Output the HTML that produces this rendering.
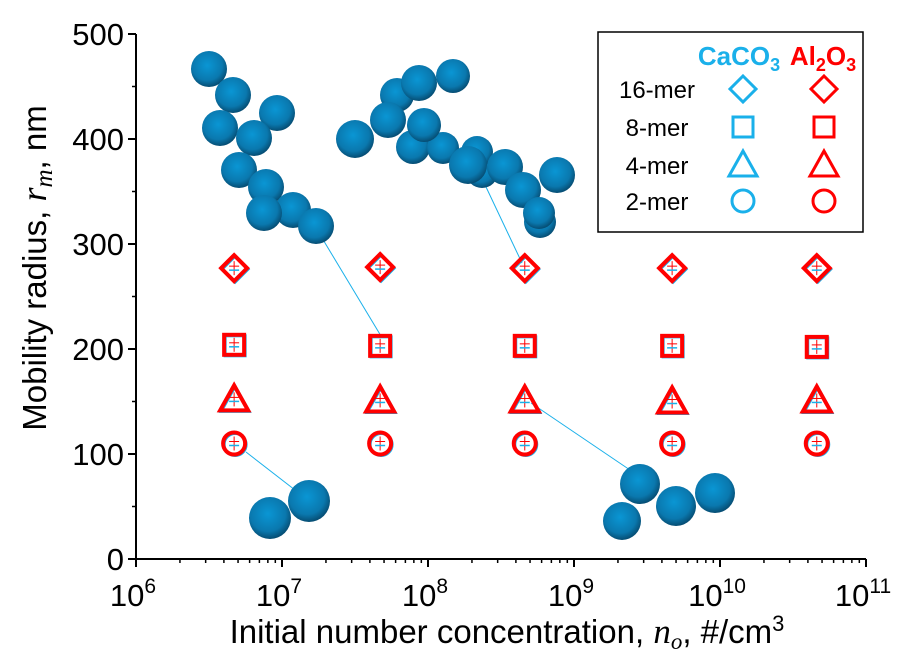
<!DOCTYPE html>
<html><head><meta charset="utf-8"><style>
html,body{margin:0;padding:0;background:#fff;}
svg{display:block;font-family:"Liberation Sans",Arial,sans-serif;}
</style></head><body>
<svg id="chart" width="924" height="670" viewBox="0 0 924 670">
<defs>
<radialGradient id="sph" cx="0.45" cy="0.4" r="0.6">
<stop offset="0" stop-color="#0a96d4"/><stop offset="0.7" stop-color="#0a78ae"/><stop offset="1" stop-color="#064d73"/>
</radialGradient>
</defs>
<g id="illus"></g>
<g id="axes"></g>
<g id="marks"></g>
<g>
<rect x="598" y="32" width="265" height="200" fill="#fff" stroke="#000" stroke-width="1.5"/>
<text x="739" y="65" text-anchor="middle" font-size="26" font-weight="bold" fill="#1ab0ea">CaCO<tspan font-size="18" dy="6">3</tspan></text>
<text x="823" y="65" text-anchor="middle" font-size="26" font-weight="bold" fill="#ff0000">Al<tspan font-size="18" dy="6">2</tspan><tspan dy="-6">O</tspan><tspan font-size="18" dy="6">3</tspan></text>
<g id="legrows"></g>
</g>
</svg>
<script>
const ns="http://www.w3.org/2000/svg";
const concentrations=[4.7e6,4.7e7,4.6e8,4.7e9,4.6e10];
const series16=[277,278,277,277,277];
const series8=[204,203,203,203,202];
const series4=[152,151,151,150,151];
const series2=[110,110,110,110,110];
const xTicks=[6,7,8,9,10,11];
const yTicks=[0,100,200,300,400,500];
const X0=136,X1=866,Y0=559,Y1=34;
function xs(v){return X0+(Math.log10(v)-6)/5*(X1-X0);}
function ys(v){return Y0-v/500*(Y0-Y1);}
function mk(tag,attrs,parent){const e=document.createElementNS(ns,tag);for(const k in attrs)e.setAttribute(k,attrs[k]);parent.appendChild(e);return e;}
const axes=document.getElementById('axes');
let l=mk('line',{x1:X0,y1:Y0,x2:X1,y2:Y0,stroke:'#000','stroke-width':2},axes);


l=mk('line',{x1:X0,y1:Y0,x2:X0,y2:Y1,stroke:'#000','stroke-width':2},axes);


xTicks.forEach(p=>{const x=xs(Math.pow(10,p));
 mk('line',{x1:x,y1:Y0,x2:x,y2:Y0+8,stroke:'#000','stroke-width':2},axes);
 const t=mk('text',{x:x-3,y:606,'text-anchor':'middle','font-size':31},axes);
 
 
 t.innerHTML='10<tspan font-size="21" dy="-13">'+p+'</tspan>';
 if(p<11)for(let m=2;m<=9;m++){const xm=xs(m*Math.pow(10,p));mk('line',{x1:xm,y1:Y0,x2:xm,y2:Y0+4,stroke:'#000','stroke-width':1.5},axes);}
});
yTicks.forEach(v=>{const y=ys(v);
 mk('line',{x1:X0-8,y1:y,x2:X0,y2:y,stroke:'#000','stroke-width':2},axes);
 if(v<500)mk('line',{x1:X0-4,y1:ys(v+50),x2:X0,y2:ys(v+50),stroke:'#000','stroke-width':1.5},axes);
 const t=mk('text',{x:124,y:y+11,'text-anchor':'end','font-size':31},axes);
 
 
 t.textContent=v;
});
let tt=mk('text',{x:507,y:643,'text-anchor':'middle','font-size':33},axes);


tt.innerHTML='Initial number concentration, <tspan font-family="Liberation Serif" font-style="italic" font-size="35">n<tspan font-size="23" dy="6">o</tspan></tspan><tspan dy="-6">, #/cm</tspan><tspan font-size="22" dy="-12">3</tspan>';
tt=mk('text',{x:0,y:0,'text-anchor':'middle','font-size':33,transform:'translate(46,268) rotate(-90)'},axes);


tt.innerHTML='Mobility radius, <tspan font-family="Liberation Serif" font-style="italic" font-size="36">r<tspan font-size="25" dy="6">m</tspan></tspan><tspan dy="-6">, nm</tspan>';
const ill=document.getElementById('illus');
[[316,228,381,336],[246,452,295,490],[478,170,522,263],[531,403,630,470]].forEach(s=>{mk('line',{x1:s[0],y1:s[1],x2:s[2],y2:s[3],stroke:'#1ab0ea','stroke-width':1},ill);});
const spheres=[[209,69,18],[233,95,18],[220,128,18],[277,113,18],[254,138,18],[239,170,18],[266,187,18],[293,210,18],[264,213,18],[316,226,18],
[355,139,19],[397,95,17],[419,83,18],[453,76,17],[388,120,18],[413,147,17],[443,148,16],[424,125,17],[482,172,16],[477,152,16],[468,165,19],[505,167,18],[523,190,18],[540,222,16],[539,213,16],[557,175,18],
[270,518,21],[309,501,21],[622,521,19],[640,484,20],[676,506,20],[715,493,20]];
spheres.forEach(s=>{mk('circle',{cx:s[0],cy:s[1],r:s[2],fill:'url(#sph)'},ill);});
function shape(type,cx,cy,color,parent,sw){
 if(type==='d')return mk('polygon',{points:`${cx},${cy-13} ${cx+13},${cy} ${cx},${cy+13} ${cx-13},${cy}`,fill:'none',stroke:color,'stroke-width':sw},parent);
 if(type==='s')return mk('rect',{x:cx-10,y:cy-10,width:20,height:20,fill:'none',stroke:color,'stroke-width':sw},parent);
 if(type==='t')return mk('polygon',{points:`${cx},${cy-14} ${cx+14},${cy+11} ${cx-14},${cy+11}`,fill:'none',stroke:color,'stroke-width':sw,'stroke-linejoin':'miter'},parent);
 return mk('circle',{cx:cx,cy:cy,r:11,fill:'none',stroke:color,'stroke-width':sw},parent);
}
const marks=document.getElementById('marks');
[['d',series16,'16'],['s',series8,'8'],['t',series4,'4'],['o',series2,'2']].forEach(([t,arr,nm])=>{
 arr.forEach((v,i)=>{const cx=xs(concentrations[i]),cy=ys(v);
  const g=mk('g',{},marks);
  
  
  shape(t,cx+1,cy+1,'#1ab0ea',g,3);
  shape(t,cx,cy,'#ff0000',g,4);
  mk('line',{x1:cx,y1:cy-7,x2:cx,y2:cy+7,stroke:'#ff0000','stroke-width':1},g);
  mk('line',{x1:cx-5,y1:cy-2,x2:cx+5,y2:cy-2,stroke:'#ff0000','stroke-width':1},g);
  mk('line',{x1:cx-5,y1:cy+2,x2:cx+5,y2:cy+2,stroke:'#1ab0ea','stroke-width':1.5},g);
 });
});
const lr=document.getElementById('legrows');
[['16-mer','d',89],['8-mer','s',127],['4-mer','t',165],['2-mer','o',201]].forEach(([lab,t,y])=>{
 const tx=mk('text',{x:657,y:y+9,'text-anchor':'middle','font-size':24},lr);
 
 
 tx.textContent=lab;
 shape(t,743,y,'#1ab0ea',lr,3);
 shape(t,824,y,'#ff0000',lr,3);
});
</script>
</body></html>
